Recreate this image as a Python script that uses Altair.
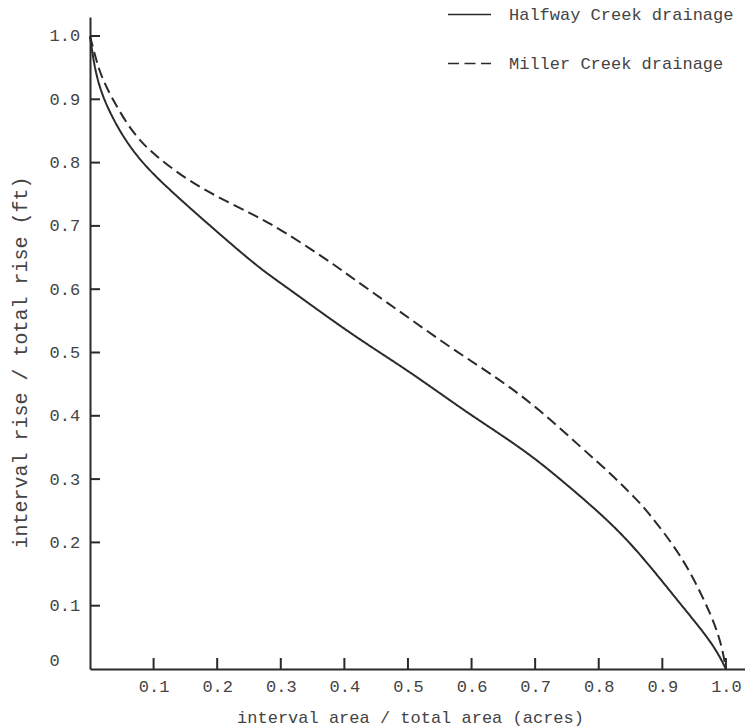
import altair as alt
import pandas as pd

FONT = "Liberation Mono"
INK = "#2a2a2a"
TXT = "#444444"

series_names = ["Halfway Creek drainage", "Miller Creek drainage"]

halfway_x = [0.0, 0.005, 0.010, 0.021, 0.048, 0.081, 0.126, 0.189, 0.265, 0.304, 0.409,
             0.487, 0.540, 0.592, 0.645, 0.697, 0.749, 0.823, 0.875, 0.928, 0.980, 1.0]
halfway_y = [1.0, 0.965, 0.938, 0.9, 0.846, 0.8, 0.756, 0.70, 0.634, 0.607, 0.53,
             0.48, 0.443, 0.406, 0.371, 0.335, 0.292, 0.228, 0.17, 0.103, 0.04, 0.0]

miller_x = [0.0, 0.009, 0.017, 0.035, 0.068, 0.100, 0.152, 0.204, 0.252, 0.283, 0.330,
            0.388, 0.409, 0.487, 0.566, 0.645, 0.708, 0.770, 0.823, 0.860, 0.875, 0.928,
            0.964, 0.991, 1.0]
miller_y = [1.0, 0.965, 0.938, 0.9, 0.845, 0.813, 0.773, 0.744, 0.72, 0.704, 0.675,
            0.636, 0.62, 0.565, 0.508, 0.457, 0.409, 0.352, 0.305, 0.267, 0.251, 0.183,
            0.114, 0.051, 0.0]

x_ticks = [0.1, 0.2, 0.3, 0.4, 0.5, 0.6, 0.7, 0.8, 0.9, 1.0]
y_ticks = [0.1, 0.2, 0.3, 0.4, 0.5, 0.6, 0.7, 0.8, 0.9, 1.0]
y_labels = [0.0] + y_ticks

W, H = 655, 652

rows = []
for x, y in zip(halfway_x, halfway_y):
    rows.append({"x": x, "y": y, "series": series_names[0]})
for x, y in zip(miller_x, miller_y):
    rows.append({"x": x, "y": y, "series": series_names[1]})
df = pd.DataFrame(rows)

xscale = alt.Scale(domain=[0, 1.03], nice=False, zero=False)
yscale = alt.Scale(domain=[0, 1.03], nice=False, zero=False)

x_axis = alt.Axis(
    values=x_ticks, format=".1f", ticks=False, tickSize=0, grid=False,
    labelFont=FONT, labelFontSize=17, labelColor=TXT, labelPadding=17,
    labelBaseline="middle",
    domainColor=INK, domainWidth=2,
    title="interval area / total area (acres)", titleFont=FONT, titleFontSize=17,
    titleFontWeight="normal", titleColor=TXT, titleX=320, titleY=48,
    titleBaseline="middle", titleAlign="center",
)
y_axis = alt.Axis(
    values=y_labels, labelExpr="datum.value == 0 ? '0' : format(datum.value, '.1f')",
    ticks=False, tickSize=0, grid=False,
    labelFont=FONT, labelFontSize=17, labelColor=TXT, labelPadding=41,
    labelAlign="left",
    labelBaseline={"condition": {"test": "datum.value == 0", "value": "bottom"}, "value": "middle"},
    domainColor=INK, domainWidth=2,
    title="interval rise / total rise (ft)", titleFont=FONT, titleFontSize=20,
    titleFontWeight="normal", titleColor=TXT, titleX=-70, titleY=345,
    titleAngle=270, titleBaseline="middle", titleAlign="center",
)

lines = alt.Chart(df).mark_line(interpolate="basis", strokeWidth=2, color=INK).encode(
    x=alt.X("x:Q", scale=xscale, axis=x_axis),
    y=alt.Y("y:Q", scale=yscale, axis=y_axis),
    strokeDash=alt.StrokeDash(
        "series:N",
        scale=alt.Scale(domain=series_names, range=[[1, 0], [11, 5.5]]),
        legend=alt.Legend(
            title=None, orient="none", legendX=357, legendY=-25,
            symbolType="stroke", symbolSize=1849, symbolStrokeWidth=1.6,
            symbolStrokeColor=INK, labelFont=FONT, labelFontSize=17,
            labelColor=TXT, labelOffset=17, labelLimit=0, rowPadding=18, padding=0,
        ),
    ),
    order=alt.Order("x:Q"),
)

xt = alt.Chart(pd.DataFrame({"x": x_ticks})).mark_tick(
    orient="vertical", size=11, thickness=2, color=INK, opacity=1
).encode(
    x=alt.X("x:Q", scale=xscale),
    y=alt.value(H - 5.5),
)
yt = alt.Chart(pd.DataFrame({"y": y_ticks})).mark_tick(
    orient="horizontal", size=10, thickness=2, color=INK, opacity=1
).encode(
    y=alt.Y("y:Q", scale=yscale),
    x=alt.value(5),
)

chart = alt.layer(lines, xt, yt).properties(
    width=W, height=H,
    autosize=alt.AutoSizeParams(type="none"),
    padding={"left": 90, "top": 17, "right": 0, "bottom": 59},
    background="white",
).configure_view(stroke=None)

chart.save("out.html", embed_options={"renderer": "svg", "actions": False})
